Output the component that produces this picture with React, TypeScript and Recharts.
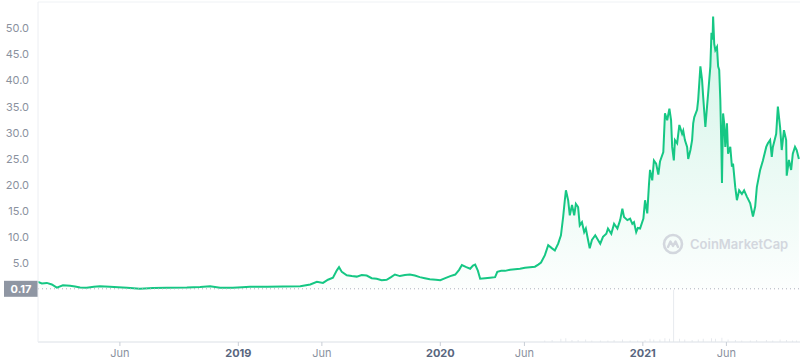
import React from 'react';
import { ComposedChart, Area, Bar, XAxis, YAxis, CartesianGrid, ReferenceLine } from 'recharts';

// price readings [date, USD]
const PRICE_2018: [string, number][] = [
  ['2018-01-04', 1.5], ['2018-01-11', 1.2], ['2018-01-20', 1.3], ['2018-01-29', 1.0],
  ['2018-02-07', 0.4], ['2018-02-18', 0.85], ['2018-03-03', 0.75], ['2018-03-12', 0.6],
  ['2018-03-21', 0.4], ['2018-04-02', 0.35], ['2018-04-15', 0.55], ['2018-04-26', 0.65],
  ['2018-05-14', 0.55], ['2018-05-29', 0.45], ['2018-06-14', 0.35], ['2018-07-07', 0.2],
  ['2018-07-31', 0.3], ['2018-08-25', 0.35], ['2018-09-30', 0.4], ['2018-10-24', 0.5],
  ['2018-11-11', 0.65], ['2018-11-29', 0.35], ['2018-12-22', 0.35],
];

const PRICE_2019: [string, number][] = [
  ['2019-01-08', 0.45], ['2019-01-22', 0.55], ['2019-02-22', 0.55], ['2019-03-23', 0.6],
  ['2019-04-23', 0.65], ['2019-05-11', 1.0], ['2019-05-23', 1.5], ['2019-06-03', 1.3],
  ['2019-06-12', 1.9], ['2019-06-21', 2.3], ['2019-06-28', 3.7], ['2019-07-02', 4.3],
  ['2019-07-07', 3.4], ['2019-07-16', 2.75], ['2019-07-25', 2.6], ['2019-08-03', 2.5],
  ['2019-08-12', 2.8], ['2019-08-21', 2.7], ['2019-08-30', 2.2], ['2019-09-08', 2.1],
  ['2019-09-17', 1.8], ['2019-09-26', 1.9], ['2019-10-04', 2.4], ['2019-10-11', 2.9],
  ['2019-10-20', 2.6], ['2019-10-29', 2.8], ['2019-11-07', 2.9], ['2019-11-16', 2.7],
  ['2019-11-25', 2.4], ['2019-12-04', 2.2], ['2019-12-13', 2.0], ['2019-12-24', 1.9],
];

const PRICE_2020: [string, number][] = [
  ['2020-01-01', 1.8], ['2020-01-10', 2.2], ['2020-01-19', 2.6], ['2020-01-28', 2.9],
  ['2020-02-04', 3.8], ['2020-02-09', 4.7], ['2020-02-17', 4.3], ['2020-02-24', 4.0],
  ['2020-02-29', 4.6], ['2020-03-04', 4.8], ['2020-03-09', 3.6], ['2020-03-13', 2.1],
  ['2020-03-22', 2.2], ['2020-03-31', 2.3], ['2020-04-09', 2.4], ['2020-04-13', 3.4],
  ['2020-04-20', 3.6], ['2020-04-27', 3.6], ['2020-05-06', 3.8], ['2020-05-15', 3.9],
  ['2020-05-24', 4.0], ['2020-06-02', 4.2], ['2020-06-11', 4.3], ['2020-06-20', 4.4],
  ['2020-06-26', 4.8], ['2020-07-01', 5.2], ['2020-07-08', 6.6], ['2020-07-14', 8.5],
  ['2020-07-21', 7.9], ['2020-07-26', 7.5], ['2020-08-01', 8.8], ['2020-08-06', 10.4],
  ['2020-08-10', 13.9], ['2020-08-13', 17.1], ['2020-08-15', 19.0], ['2020-08-19', 17.1],
  ['2020-08-22', 14.2], ['2020-08-26', 16.2], ['2020-08-30', 14.2], ['2020-09-02', 16.4],
  ['2020-09-06', 15.8], ['2020-09-09', 12.3], ['2020-09-13', 12.9], ['2020-09-17', 11.0],
  ['2020-09-20', 11.7], ['2020-09-24', 9.5], ['2020-09-27', 7.9], ['2020-10-01', 9.5],
  ['2020-10-07', 10.4], ['2020-10-12', 9.5], ['2020-10-16', 8.8], ['2020-10-21', 10.1],
  ['2020-10-27', 10.7], ['2020-10-30', 11.7], ['2020-11-05', 10.7], ['2020-11-10', 12.6],
  ['2020-11-16', 11.7], ['2020-11-21', 13.3], ['2020-11-25', 15.5], ['2020-11-28', 13.9],
  ['2020-12-04', 13.3], ['2020-12-09', 13.6], ['2020-12-13', 12.6], ['2020-12-16', 12.9],
  ['2020-12-20', 11.0], ['2020-12-23', 11.8], ['2020-12-27', 11.7],
];

const PRICE_2021: [string, number][] = [
  ['2021-01-02', 13.6], ['2021-01-05', 17.1], ['2021-01-09', 14.6], ['2021-01-12', 20.0],
  ['2021-01-14', 22.9], ['2021-01-18', 20.9], ['2021-01-21', 24.7], ['2021-01-25', 24.1],
  ['2021-01-29', 22.0], ['2021-02-01', 24.5], ['2021-02-07', 26.3], ['2021-02-10', 33.7],
  ['2021-02-14', 32.4], ['2021-02-18', 34.6], ['2021-02-21', 32.4], ['2021-02-23', 27.3],
  ['2021-02-26', 24.7], ['2021-02-28', 28.6], ['2021-03-04', 28.0], ['2021-03-08', 31.5],
  ['2021-03-13', 29.8], ['2021-03-15', 30.4], ['2021-03-18', 28.6], ['2021-03-22', 27.3],
  ['2021-03-24', 25.0], ['2021-03-28', 26.7], ['2021-03-31', 28.6], ['2021-04-02', 31.8],
  ['2021-04-04', 33.0], ['2021-04-09', 34.4], ['2021-04-11', 36.3], ['2021-04-15', 42.7],
  ['2021-04-18', 40.1], ['2021-04-20', 36.9], ['2021-04-24', 31.1], ['2021-04-27', 35.0],
  ['2021-04-29', 37.5], ['2021-05-03', 42.7], ['2021-05-05', 49.1], ['2021-05-07', 47.8],
  ['2021-05-08', 52.2], ['2021-05-10', 47.0], ['2021-05-12', 45.8], ['2021-05-15', 46.4],
  ['2021-05-17', 42.7], ['2021-05-19', 42.0], ['2021-05-21', 36.3], ['2021-05-23', 26.7],
  ['2021-05-24', 20.4], ['2021-05-26', 33.7], ['2021-05-28', 31.8], ['2021-05-30', 27.3],
  ['2021-06-02', 31.8], ['2021-06-04', 26.0], ['2021-06-08', 27.3], ['2021-06-11', 23.5],
  ['2021-06-13', 24.1], ['2021-06-17', 19.6], ['2021-06-20', 17.1], ['2021-06-24', 19.0],
  ['2021-06-29', 18.3], ['2021-07-03', 19.0], ['2021-07-08', 17.8], ['2021-07-14', 16.5],
  ['2021-07-19', 14.0], ['2021-07-23', 15.9], ['2021-07-26', 19.6], ['2021-08-01', 22.9],
  ['2021-08-06', 24.7], ['2021-08-12', 27.3], ['2021-08-15', 28.0], ['2021-08-19', 28.6],
  ['2021-08-22', 25.4], ['2021-08-24', 27.3], ['2021-08-30', 29.8], ['2021-09-02', 35.0],
  ['2021-09-06', 31.1], ['2021-09-09', 26.7], ['2021-09-13', 30.5], ['2021-09-17', 28.6],
  ['2021-09-18', 21.8], ['2021-09-22', 24.8], ['2021-09-26', 22.9], ['2021-09-29', 26.0],
  ['2021-10-03', 27.3], ['2021-10-06', 26.7], ['2021-10-10', 25.0],
];

// trading volume, relative units
const VOLUME: [string, number][] = [
  ['2020-07-08', 3], ['2020-07-21', 4], ['2020-08-06', 6], ['2020-08-15', 7], ['2020-08-26', 4],
  ['2020-09-06', 4], ['2020-09-20', 5], ['2020-10-01', 3], ['2020-10-16', 3], ['2020-10-30', 3],
  ['2020-11-10', 4], ['2020-11-25', 5], ['2020-12-09', 3], ['2020-12-23', 3], ['2021-01-05', 4],
  ['2021-01-14', 6], ['2021-01-21', 5], ['2021-02-01', 5], ['2021-02-10', 7], ['2021-02-18', 6],
  ['2021-02-26', 100], ['2021-03-08', 6], ['2021-03-18', 5], ['2021-03-31', 4], ['2021-04-11', 5],
  ['2021-04-20', 6], ['2021-05-05', 7], ['2021-05-12', 6], ['2021-05-24', 8], ['2021-06-04', 5],
  ['2021-06-17', 4], ['2021-06-29', 3], ['2021-07-14', 3], ['2021-07-26', 4], ['2021-08-12', 4],
  ['2021-08-24', 3], ['2021-09-06', 5], ['2021-09-18', 4], ['2021-09-29', 3], ['2021-10-06', 3],
];

const OPEN_PRICE = 0.17;
const Y_TICKS = [-5, 5, 10, 15, 20, 25, 30, 35, 40, 45, 50];
const X_TICKS = ['2018-06-01', '2019-01-01', '2019-06-01', '2020-01-01', '2020-06-01', '2021-01-01', '2021-06-01'];
const X_START = '2018-01-04';
const X_END = '2021-10-12';

const toTime = (d: string) => Date.parse(d + 'T00:00:00Z');

const rowsByTime = new Map<number, { t: number; price?: number; volume?: number }>();
[...PRICE_2018, ...PRICE_2019, ...PRICE_2020, ...PRICE_2021].forEach(([d, p]) => {
  const t = toTime(d);
  rowsByTime.set(t, { ...(rowsByTime.get(t) || { t }), price: p });
});
VOLUME.forEach(([d, v]) => {
  const t = toTime(d);
  rowsByTime.set(t, { ...(rowsByTime.get(t) || { t }), volume: v });
});
const data = Array.from(rowsByTime.values()).sort((a, b) => a.t - b.t);

const FONT = 'Inter, "Noto Sans", sans-serif';

const XTick = (props: any) => {
  const { x, y, payload } = props;
  const d = new Date(payload.value);
  const isYear = d.getUTCMonth() === 0;
  return (
    <text x={x} y={y} dy={9} textAnchor="middle" fontSize={11} fontFamily={FONT}
      fontWeight={isYear ? 700 : 400} fill={isYear ? '#58667e' : '#8a919e'}>
      {isYear ? String(d.getUTCFullYear()) : 'Jun'}
    </text>
  );
};

const OpenLabel = (props: any) => {
  const { viewBox } = props;
  const y = viewBox.y;
  return (
    <g>
      <rect x={4} y={y - 8} width={34} height={16} fill="#8f96a3" />
      <text x={21} y={y + 4} textAnchor="middle" fontSize={11} fontWeight={700} fill="#fff" fontFamily={FONT}>
        {OPEN_PRICE.toFixed(2)}
      </text>
    </g>
  );
};

const Watermark = () => (
  <div style={{ position: 'absolute', left: 662, top: 233, display: 'flex', alignItems: 'center', gap: 6, pointerEvents: 'none' }}>
    <svg width={22} height={22} viewBox="0 0 22 22">
      <circle cx={11} cy={11} r={9} fill="none" stroke="#d3d7de" strokeWidth={2.6} />
      <path d="M6 14 L8.5 8.5 L11 13 L13.5 8.5 L16 14" fill="none" stroke="#d3d7de" strokeWidth={2.4} strokeLinejoin="round" strokeLinecap="round" />
    </svg>
    <span style={{ fontFamily: FONT, fontSize: 13, fontWeight: 600, color: '#d3d7de', whiteSpace: 'nowrap' }}>CoinMarketCap</span>
  </div>
);

export default function App() {
  return (
    <div style={{ position: 'absolute', left: 0, top: 0, width: 800, height: 364, background: '#fff' }}>
      <ComposedChart width={800} height={364} data={data} margin={{ top: 2, right: 0, bottom: 0, left: 0 }}>
        <defs>
          <linearGradient id="priceFill" x1="0" y1="0" x2="0" y2="1">
            <stop offset="0%" stopColor="#16c784" stopOpacity={0.32} />
            <stop offset="100%" stopColor="#16c784" stopOpacity={0.02} />
          </linearGradient>
        </defs>
        <CartesianGrid vertical={false} stroke="#eff2f5" />
        <XAxis
          dataKey="t"
          type="number"
          scale="time"
          domain={[toTime(X_START), toTime(X_END)]}
          allowDataOverflow
          ticks={X_TICKS.map(toTime)}
          interval={0}
          tick={<XTick />}
          height={22}
          tickSize={4}
          tickMargin={2}
          axisLine={{ stroke: '#e3e6eb' }}
          tickLine={{ stroke: '#c9ced6' }}
          padding={{ left: 0, right: 0 }}
        />
        <YAxis
          yAxisId="price"
          domain={[-10, 55]}
          allowDataOverflow
          ticks={Y_TICKS}
          interval={0}
          tickFormatter={(v: number) => (v > 0 ? v.toFixed(1) : '')}
          width={38}
          tickSize={6}
          tickMargin={3}
          tickLine={false}
          axisLine={{ stroke: '#eceef2' }}
          tick={{ fill: '#8a919e', fontSize: 11, fontFamily: FONT }}
        />
        <YAxis yAxisId="vol" hide domain={[0, 650]} />
        <Bar yAxisId="vol" dataKey="volume" fill="#cfd4dd" barSize={1} isAnimationActive={false} />
        <ReferenceLine yAxisId="price" y={OPEN_PRICE} stroke="#aab0bb" strokeDasharray="1 3" label={<OpenLabel />} />
        <Area
          yAxisId="price"
          type="linear"
          dataKey="price"
          baseValue={OPEN_PRICE}
          stroke="#16c784"
          strokeWidth={2}
          fill="url(#priceFill)"
          dot={false}
          activeDot={false}
          connectNulls
          isAnimationActive={false}
        />
      </ComposedChart>
      <Watermark />
    </div>
  );
}
